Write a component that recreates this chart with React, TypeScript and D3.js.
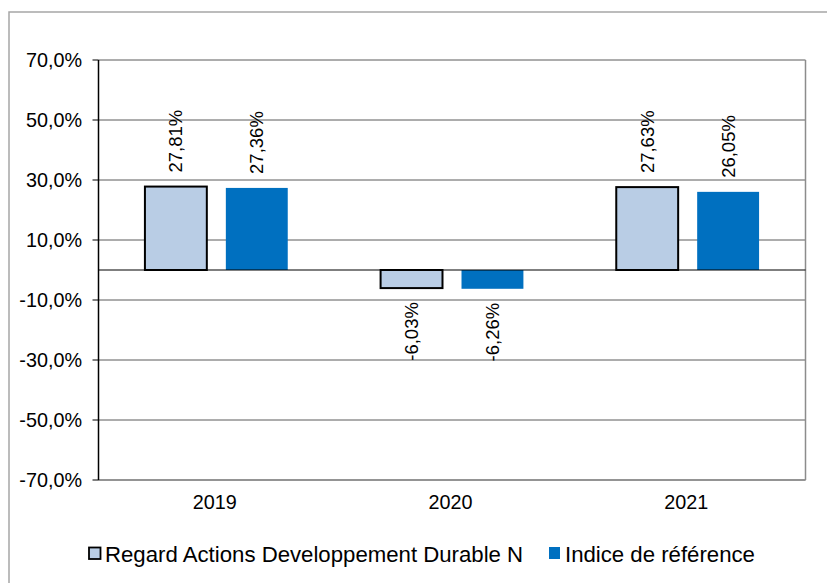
import * as d3 from "d3";

const years = ["2019", "2020", "2021"];
const seriesNames = ["Regard Actions Developpement Durable N", "Indice de référence"];
const regardValues = [27.81, -6.03, 27.63];
const indiceValues = [27.36, -6.26, 26.05];
const yTicks = [70, 50, 30, 10, -10, -30, -50, -70];

const colors = ["#b9cde5", "#0070c0"];
const font = "'Liberation Sans', Arial, sans-serif";

const W = 827;
const H = 583;
const plot = { left: 98.5, right: 805.5, top: 60, bottom: 480 };

const fmtTick = (v: number) => v.toFixed(1).replace(".", ",") + "%";
const fmtVal = (v: number) => v.toFixed(2).replace(".", ",") + "%";

export default function App() {
  const y = d3.scaleLinear().domain([-70, 70]).range([plot.bottom, plot.top]);
  const x0 = d3.scaleBand<string>().domain(years).range([plot.left, plot.right]);
  const bw = x0.bandwidth();
  const x1 = d3
    .scaleBand<string>()
    .domain(seriesNames)
    .range([bw * 0.197, bw * 0.803])
    .paddingInner(0.235);

  const rows = years.map((yr, i) => ({
    year: yr,
    values: [regardValues[i], indiceValues[i]],
  }));

  return (
    <svg
      width={W}
      height={H}
      style={{ position: "absolute", left: 0, top: 0, background: "#fff" }}
      fontFamily={font}
    >
      {/* outer chart border */}
      <rect x={9} y={12} width={W} height={H} fill="#fff" stroke="#a6a6a6" strokeWidth={1.5} />

      {/* gridlines */}
      {yTicks.map((t) => (
        <line key={t} x1={plot.left} x2={plot.right} y1={y(t)} y2={y(t)} stroke="#5a5a5a" strokeWidth={1} />
      ))}

      {/* plot frame right/bottom */}
      <line x1={plot.right} x2={plot.right} y1={plot.top} y2={plot.bottom} stroke="#8c8c8c" strokeWidth={1.5} />
      <line x1={plot.left} x2={plot.right} y1={plot.bottom} y2={plot.bottom} stroke="#8c8c8c" strokeWidth={1.5} />

      {/* bars */}
      {rows.map((r) => (
        <g key={r.year} transform={`translate(${x0(r.year)},0)`}>
          {r.values.map((v, si) => {
            const xs = x1(seriesNames[si]) as number;
            const top = y(Math.max(0, v));
            const h = Math.abs(y(v) - y(0));
            const cx = xs + x1.bandwidth() / 2;
            const labelY = v >= 0 ? y(v) - 14 : y(v) + 14;
            return (
              <g key={si}>
                <rect
                  x={xs}
                  y={top}
                  width={x1.bandwidth()}
                  height={h}
                  fill={colors[si]}
                  stroke={si === 0 ? "#000" : "none"}
                  strokeWidth={2}
                />
                <text
                  transform={`translate(${cx},${labelY}) rotate(-90)`}
                  textAnchor={v >= 0 ? "start" : "end"}
                  dy="0.35em"
                  fontSize={18.5}
                  fill="#000"
                >
                  {fmtVal(v)}
                </text>
              </g>
            );
          })}
        </g>
      ))}

      {/* zero line (category axis) */}
      <line x1={plot.left} x2={plot.right} y1={y(0)} y2={y(0)} stroke="#000" strokeWidth={1.2} />

      {/* y axis */}
      <line x1={plot.left} x2={plot.left} y1={plot.top} y2={plot.bottom} stroke="#000" strokeWidth={1.5} />
      {yTicks.map((t) => (
        <g key={t}>
          <line x1={plot.left - 6} x2={plot.left} y1={y(t)} y2={y(t)} stroke="#000" strokeWidth={1} />
          <text x={82} y={y(t)} dy="0.36em" textAnchor="end" fontSize={19.8} fill="#000">
            {fmtTick(t)}
          </text>
        </g>
      ))}

      {/* x labels */}
      {years.map((yr) => (
        <text key={yr} x={(x0(yr) as number) + bw / 2 - 1.5} y={508.5} textAnchor="middle" fontSize={19.8} fill="#000">
          {yr}
        </text>
      ))}

      {/* legend */}
      <rect x={89} y={547.5} width={11.5} height={11.5} fill={colors[0]} stroke="#000" strokeWidth={1.8} />
      <text x={105} y={561.5} fontSize={22.2} fill="#000">
        {seriesNames[0]}
      </text>
      <rect x={549} y={547} width={11} height={12} fill={colors[1]} />
      <text x={565} y={561.5} fontSize={22.2} fill="#000">
        {seriesNames[1]}
      </text>
    </svg>
  );
}
